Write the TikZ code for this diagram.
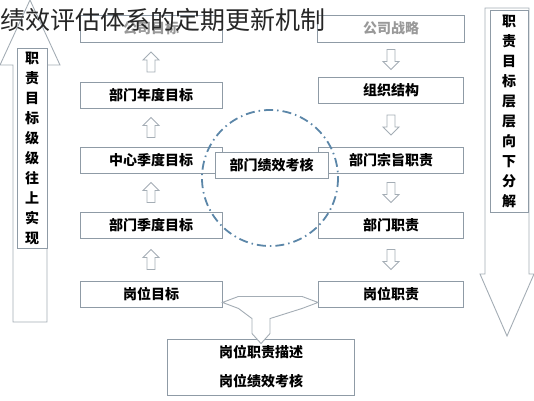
\documentclass[tikz,border=0pt]{standalone}
\usepackage{fontspec}
\newfontfamily\cjk{Noto Sans CJK SC}
\usetikzlibrary{calc}
\definecolor{boxc}{HTML}{8F9BA6}
\definecolor{arrc}{HTML}{A4ADB5}
\definecolor{ringc}{HTML}{5B86A8}
\begin{document}
\begin{tikzpicture}[x=1pt, y=-1pt,
  box/.style={draw=boxc, line width=0.9pt, fill=white, minimum width=142pt, minimum height=26pt, inner sep=0pt, font=\cjk\bfseries\fontsize{14}{16}\selectfont},
  rbox/.style={box, minimum width=145pt},
  topbox/.style={box, minimum height=27pt, text=black!40},
  vtext/.style={draw=boxc, line width=0.8pt, fill=white, align=center, inner sep=0pt, text width=14pt, font=\cjk\bfseries\fontsize{14}{20}\selectfont},
  arrline/.style={draw=arrc, line width=0.9pt, fill=white},
  uparr/.pic={\path[arrline] (-4,10) -- (-4,-2) -- (-8,-2) -- (0,-10) -- (8,-2) -- (4,-2) -- (4,10) -- cycle;},
  downarr/.pic={\path[arrline] (-4,-10) -- (-4,2) -- (-8,2) -- (0,10) -- (8,2) -- (4,2) -- (4,-10) -- cycle;}]
\useasboundingbox (0,0) rectangle (534,400);
% side arrows
\path[arrline] (13,322) -- (13,65) -- (0,65) -- (30,0) -- (60,65) -- (47,65) -- (47,322) -- cycle;
\path[arrline] (485,8) -- (529,8) -- (529,274) -- (534,274) -- (507,336) -- (480,274) -- (485,274) -- cycle;
\node[vtext, minimum width=30pt, minimum height=200pt] (up) at (32,148) {职\\责\\目\\标\\级\\级\\往\\上\\实\\现};
\node[vtext, minimum width=38pt, minimum height=202pt] (down) at (509,111) {职\\责\\目\\标\\层\\层\\向\\下\\分\\解};
% left column
\node[topbox] (gsmb) at (151,28.5) {公司目标};
\node[box] (bmnd) at (151,95) {部门年度目标};
\node[box] (zxjd) at (151,160) {中心季度目标};
\node[box] (bmjd) at (151,225) {部门季度目标};
\node[box] (gwmb) at (151,294) {岗位目标};
% right column
\node[topbox, minimum width=147pt] (gszl) at (391,28.5) {公司战略};
\node[rbox] (zzjg) at (391,90) {组织结构};
\node[rbox] (bmzz) at (391,160) {部门宗旨职责};
\node[rbox] (bmzr) at (391,225) {部门职责};
\node[rbox] (gwzz) at (391,294) {岗位职责};
\node[box, minimum width=113pt] (bmkh) at (271.5,165) {部门绩效考核};
\node[box, minimum width=187pt, minimum height=56pt, align=center, font=\cjk\bfseries\fontsize{14}{29}\selectfont] (desc) at (261,367) {岗位职责描述\\岗位绩效考核};
\pic at ($(gsmb.south)!0.5!(bmnd.north)$) {uparr};
\pic at ($(bmnd.south)!0.5!(zxjd.north)$) {uparr};
\pic at ($(zxjd.south)!0.5!(bmjd.north)$) {uparr};
\pic at ($(bmjd.south)!0.5!(gwmb.north)$) {uparr};
\pic at ($(gszl.south)!0.5!(zzjg.north)$) {downarr};
\pic at ($(zzjg.south)!0.5!(bmzz.north)$) {downarr};
\pic at ($(bmzz.south)!0.5!(bmzr.north)$) {downarr};
\pic at ($(bmzr.south)!0.5!(gwzz.north)$) {downarr};
% bottom joint
\coordinate (tl) at ([yshift=5pt]gwmb.south east);
\coordinate (tr) at ([yshift=5pt]gwzz.south west);
\coordinate (tt) at ([yshift=-5pt]desc.north);
\path[arrline] (tl) -- ++(16,-6) -- ($(tr)+(-16,-6)$) -- (tr) -- ++(-16,6) -- ($(tt)+(9,-25)$) -- ($(tt)+(9,-10)$) -- (tt) -- ($(tt)+(-9,-10)$) -- ($(tt)+(-9,-25)$) -- ($(tl)+(16,6)$) -- cycle;
\draw[ringc, line width=1.8pt, dash pattern=on 9pt off 4pt on 1.5pt off 4pt] (270,178) circle (68);
\node[anchor=west, inner sep=0pt, text=black!85, font=\cjk\fontsize{25}{28}\selectfont] (title) at (0,20) {绩效评估体系的定期更新机制};
\end{tikzpicture}
\end{document}
